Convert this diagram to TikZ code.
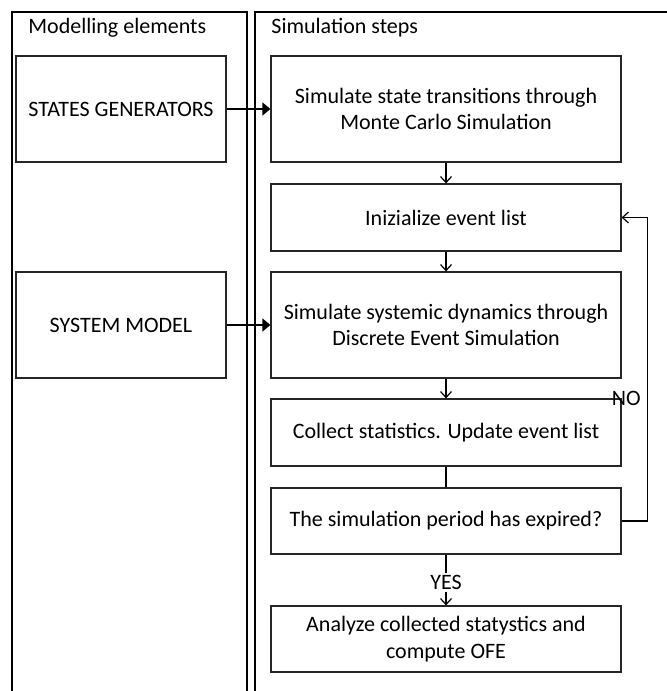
\documentclass[tikz,border=0pt]{standalone}
\usepackage{fontspec}
\setmainfont{Carlito}
\usetikzlibrary{arrows.meta}
\begin{document}
\begin{tikzpicture}[x=0.5pt,y=-0.5pt,
  font=\fontsize{11}{13.4}\selectfont,
  frame/.style={line width=1pt,black},
  box/.style={draw=black!85,line width=0.6pt,rectangle,inner sep=0pt,align=center},
  rbox/.style={box,minimum width=175pt},
  lbox/.style={box,minimum width=105pt,minimum height=53pt},
  flow/.style={line width=0.6pt,-{Straight Barb[length=3pt,width=5.5pt]}},
  feed/.style={line width=0.6pt,-{Triangle[length=4pt,width=6.5pt]}},
  lbl/.style={inner sep=1pt}]
\clip (0,0) rectangle (667,691);
\fill[white] (0,0) rectangle (667,691);
% frames
\draw[frame] (12,710) -- (12,12) -- (247,12) -- (247,710);
\draw[frame] (255,710) -- (255,12) -- (700,12);
\node[anchor=base west,inner sep=0pt] (hl) at (28,33) {Modelling elements};
\node[anchor=base west,inner sep=0pt] (hr) at (271,33) {Simulation steps};
% left boxes
\node[lbox] (sg) at (121,109) {STATES GENERATORS};
\node[lbox] (sm) at (121,325) {SYSTEM MODEL};
% right boxes
\node[rbox,minimum height=53pt] (mc) at (446,109) {Simulate state transitions through\\Monte Carlo Simulation};
\node[rbox,minimum height=33.5pt] (init) at (446,217.5) {Inizialize event list};
\node[rbox,minimum height=53pt] (ssd) at (446,325) {Simulate systemic dynamics through\\Discrete Event Simulation};
\node[rbox,minimum height=33.5pt] (coll) at (446,432.5) {Collect statistics. Update event list};
\node[rbox,minimum height=33pt] (per) at (446,521) {The simulation period has expired?};
\node[rbox,minimum height=33pt] (an) at (446,639) {Analyze collected statystics and\\compute OFE};
% connectors
\draw[feed] (sg) -- (mc);
\draw[feed] (sm) -- (ssd);
\draw[flow] (mc) -- (init);
\draw[flow] (init) -- (ssd);
\draw[flow] (ssd) -- (coll);
\draw[line width=0.6pt] (coll) -- (per);
\draw[flow] (per) -- node[lbl,fill=white,pos=0.55] (yes) {YES} (an);
\draw[flow] (per.east) -- ++(26,0) coordinate (lp) |- (init.east);
\node[lbl,anchor=east] (no) at (643,398) {NO};
\end{tikzpicture}
\end{document}
